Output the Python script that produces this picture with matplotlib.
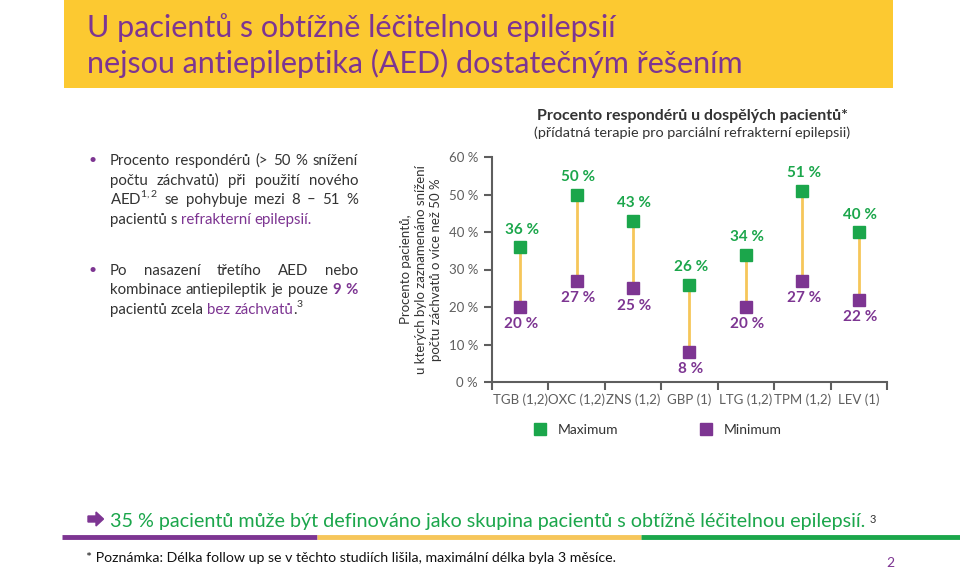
import numpy as np
import matplotlib.pyplot as plt
from matplotlib.patches import Rectangle, FancyArrow
from matplotlib.lines import Line2D

plt.rcParams['font.family'] = ['Lato', 'DejaVu Sans']
plt.rcParams['mathtext.fontset'] = 'custom'
plt.rcParams['mathtext.rm'] = 'Lato'
plt.rcParams['mathtext.bf'] = 'Lato:bold'

# data
drugs = ['TGB (1,2)', 'OXC (1,2)', 'ZNS (1,2)', 'GBP (1)', 'LTG (1,2)', 'TPM (1,2)', 'LEV (1)']
maximum = [36, 50, 43, 26, 34, 51, 40]
minimum = [20, 27, 25, 8, 20, 27, 22]
yticks = [0, 10, 20, 30, 40, 50, 60]

GREEN = '#1ba64b'
PURPLE = '#7d3592'
YELLOW = '#fcc931'
LINEY = '#f6c65a'
GRAY = '#5e5e5e'
DARK = '#333333'

W, H = 960, 574
fig = plt.figure(figsize=(W / 100, H / 100), dpi=100)
renderer = fig.canvas.get_renderer()


def fx(x):
    return x / W


def fy(y):
    return 1 - y / H


# header box
fig.patches.append(Rectangle((fx(64), fy(88)), fx(893 - 64), 88 / H, transform=fig.transFigure,
                             facecolor=YELLOW, edgecolor='none'))
fig.text(fx(87), fy(28), 'U pacientů s obtížně léčitelnou epilepsií', color=PURPLE,
         fontsize=22, va='center')
fig.text(fx(87), fy(63), 'nejsou antiepileptika (AED) dostatečným řešením', color=PURPLE,
         fontsize=22, va='center')


def textline(y, tokens, x0, x1=None, size=10.8):
    # tokens: (text, color, weight, glue) - glue = stick to previous token
    texts = []
    for txt, col, wt, glue in tokens:
        t = fig.text(0, fy(y), txt, color=col, fontsize=size, fontweight=wt, va='baseline')
        texts.append((t, glue))
    widths = [t.get_window_extent(renderer).width for t, g in texts]
    ngaps = sum(1 for t, g in texts[1:] if not g)
    if x1 is None:
        a = fig.text(0, 0, 'a a', fontsize=size).get_window_extent(renderer).width
        b = fig.text(0, 0, 'aa', fontsize=size).get_window_extent(renderer).width
        fig.texts[-2:] = []
        gap = a - b
    else:
        gap = (x1 - x0 - sum(widths)) / max(ngaps, 1)
    x = x0
    for i, ((t, glue), w) in enumerate(zip(texts, widths)):
        if i > 0 and not glue:
            x += gap
        t.set_x(fx(x))
        x += w


def words(s, col=DARK, wt='normal'):
    return [(w, col, wt, False) for w in s.split()]


bullet_x = 89
tx = 110
rx = 358
fig.text(fx(bullet_x), fy(160), '•', color=PURPLE, fontsize=10, va='center')
textline(165, words('Procento respondérů (> 50 % snížení'), tx, rx)
textline(185, words('počtu záchvatů) při použití nového'), tx, rx)
textline(204, [('AED$^{1,2}$', DARK, 'normal', False)] + words('se pohybuje mezi 8 – 51 %'), tx, rx)
textline(224, words('pacientů s') + words('refrakterní epilepsií.', PURPLE), tx)
fig.text(fx(bullet_x), fy(270), '•', color=PURPLE, fontsize=10, va='center')
textline(275, words('Po nasazení třetího AED nebo'), tx, rx)
textline(294, words('kombinace antiepileptik je pouze') + words('9 %', PURPLE, 'bold'), tx, rx)
textline(314, words('pacientů zcela') + words('bez záchvatů', PURPLE) +
         [('.$^{3}$', DARK, 'normal', True)], tx)

# chart
ax = fig.add_axes([fx(492), fy(382), fx(887 - 492), (382 - 157) / H])
x = np.arange(len(drugs))
ax.vlines(x, minimum, maximum, color=LINEY, lw=2, zorder=1)
ax.plot(x, maximum, 's', color=GREEN, ms=9, label='Maximum', zorder=2)
ax.plot(x, minimum, 's', color=PURPLE, ms=9, label='Minimum', zorder=2)
for xi, mx, mn in zip(x, maximum, minimum):
    ax.annotate(f'{mx} %', (xi, mx), xytext=(1, 12.5), textcoords='offset points',
                ha='center', va='center', color=GREEN, fontsize=11, fontweight='bold')
    ax.annotate(f'{mn} %', (xi, mn), xytext=(1, -12.5), textcoords='offset points',
                ha='center', va='center', color=PURPLE, fontsize=11, fontweight='bold')

ax.set_xlim(-0.5, len(drugs) - 0.5)
ax.set_ylim(0, 60)
ax.set_yticks(yticks)
ax.set_yticklabels([f'{v} %' for v in yticks])
ax.set_xticks(np.arange(len(drugs) + 1) - 0.5)
ax.set_xticklabels([])
ax.set_xticks(x, minor=True)
ax.set_xticklabels(drugs, minor=True)
ax.tick_params(axis='x', which='major', length=6, width=1.5, color=GRAY, direction='out')
ax.tick_params(axis='x', which='minor', length=0, pad=8, labelsize=9.5, labelcolor=GRAY)
ax.tick_params(axis='y', length=6, width=1.5, color=GRAY, pad=4, labelsize=9.5,
               labelcolor=GRAY)
for s in ['top', 'right']:
    ax.spines[s].set_visible(False)
for s in ['left', 'bottom']:
    ax.spines[s].set_color(GRAY)
    ax.spines[s].set_linewidth(1.5)
ax.set_ylabel('Procento pacientů,\nu kterých bylo zaznamenáno snížení\npočtu záchvatů o více než 50 %',
              fontsize=9.5, color=DARK, labelpad=5, linespacing=1.3)
ax.set_facecolor('none')

leg = ax.legend(loc='upper left', bbox_to_anchor=(0.072, -0.13), ncol=2, frameon=False,
                fontsize=10, handlelength=1, handletextpad=0.8, columnspacing=5.8)
for t in leg.get_texts():
    t.set_color(DARK)

fig.text(fx(692), fy(116), 'Procento respondérů u dospělých pacientů*', ha='center',
         va='center', fontsize=11.5, fontweight='bold', color=DARK)
fig.text(fx(692), fy(133), '(přídatná terapie pro parciální refrakterní epilepsii)',
         ha='center', va='center', fontsize=10.4, color=DARK)

# bottom message
fig.patches.append(FancyArrow(0.88, (H - 519) / 100, 0.08, 0, width=0.06, head_width=0.14,
                              head_length=0.075, length_includes_head=False,
                              transform=fig.dpi_scale_trans, color=PURPLE))
msg = fig.text(fx(110), fy(527), '35 % pacientů může být definováno jako skupina pacientů s obtížně léčitelnou epilepsií.',
               color=GREEN, fontsize=14.2, va='baseline')
fig.add_artist(plt.Annotation('3', xy=(1, 0.95), xycoords=msg, xytext=(3, 0),
                              textcoords='offset points', va='top', ha='left',
                              fontsize=8, color=DARK))
for x0, x1, c in [(62, 317, PURPLE), (317, 641, LINEY), (641, 960, GREEN)]:
    fig.add_artist(Line2D([fx(x0), fx(x1)], [fy(537), fy(537)], transform=fig.transFigure,
                          color=c, lw=3.5, solid_capstyle='butt'))
fig.text(fx(86), fy(558), '* Poznámka: Délka follow up se v těchto studiích lišila, maximální délka byla 3 měsíce.',
         va='center', fontsize=10.2, color='#111111')
fig.text(fx(890), fy(563), '2', va='center', ha='center', fontsize=10, color=PURPLE)

fig.savefig('out.png', dpi=100)
